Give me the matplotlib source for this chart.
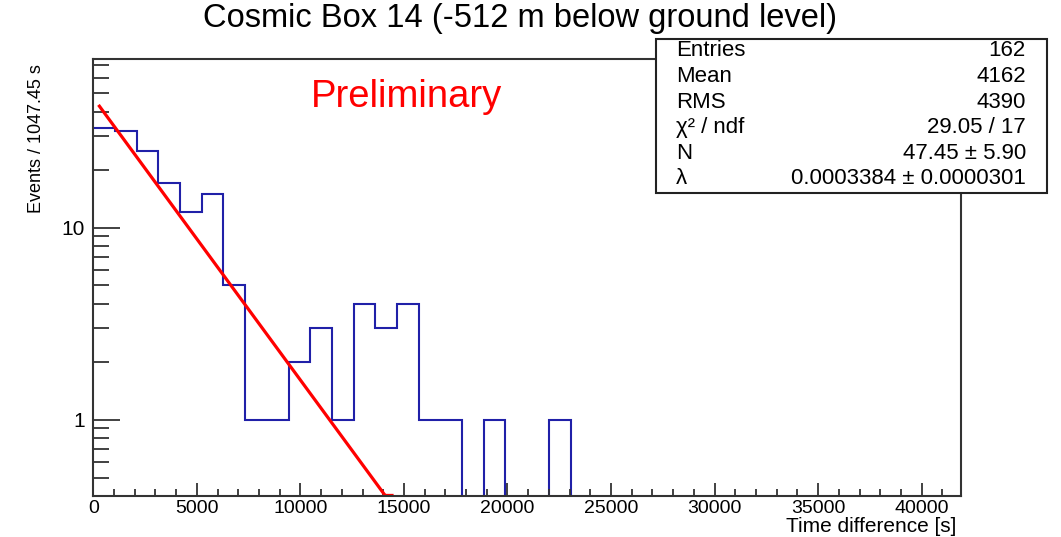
import numpy as np
import matplotlib
matplotlib.use('Agg')
import matplotlib.pyplot as plt
from matplotlib.ticker import MultipleLocator, FixedLocator, NullFormatter, LogLocator
from matplotlib.patches import Rectangle

plt.rcParams['font.family'] = ['Liberation Sans', 'DejaVu Sans']

# histogram of time differences, 40 bins of 1047.45 s
bin_width = 1047.45
counts = [33, 32, 25, 17, 12, 15, 5, 1, 1, 2,
          3, 1, 4, 3, 4, 1, 1, 0, 1, 0,
          0, 1, 0, 0, 0, 0, 0, 0, 0, 0,
          0, 0, 0, 0, 0, 0, 0, 0, 0, 0]

# exponential fit N * exp(-lambda * t)
fit_N = 47.45
fit_lam = 0.0003384
fit_range = [250, 14500]

stat_names = ['Entries', 'Mean', 'RMS', 'χ² / ndf', 'N', 'λ']
stat_values = ['162', '4162', '4390', '29.05 / 17', '47.45 ± 5.90', '0.0003384 ± 0.0000301']

W, H = 1061, 537
ymin, ymax = 0.402, 75.6


def px(x, y):
    return x / W, 1 - y / H


fig = plt.figure(figsize=(W / 100, H / 100), dpi=100)
ax = fig.add_axes([93.3 / W, 1 - 495.7 / H, (961 - 93.3) / W, (495.7 - 59) / H])

edges = np.arange(len(counts) + 1) * bin_width
vals = np.array(counts, dtype=float)
draw_vals = np.where(vals > 0, vals, 1e-3)
ax.stairs(draw_vals, edges, baseline=None, color='#2020a8', lw=1.5)

t = np.linspace(fit_range[0], fit_range[1], 400)
f = np.maximum(fit_N * np.exp(-fit_lam * t), ymin * 1.003)
ax.plot(t, f, color='#ff0000', lw=2.3, solid_capstyle='butt')

ax.set_yscale('log')
ax.set_xlim(0, edges[-1])
ax.set_ylim(ymin, ymax)

ax.xaxis.set_major_locator(MultipleLocator(5000))
ax.xaxis.set_minor_locator(MultipleLocator(1000))
ax.yaxis.set_major_locator(FixedLocator([1, 10]))
ax.yaxis.set_major_formatter(plt.FuncFormatter(lambda v, p: '%d' % v))
ax.yaxis.set_minor_locator(LogLocator(base=10, subs=np.arange(2, 10)))
ax.yaxis.set_minor_formatter(NullFormatter())

ax.tick_params(axis='both', which='both', direction='in', colors='#333333', labelcolor='black', width=1.3)
ax.tick_params(axis='x', which='major', length=9.4, labelsize=14, pad=3)
ax.tick_params(axis='x', which='minor', length=4.7)
ax.tick_params(axis='y', which='major', length=19.4, labelsize=15, pad=6)
ax.tick_params(axis='y', which='minor', length=11.3)
for s in ax.spines.values():
    s.set_linewidth(1.5)
    s.set_color('#333333')

fig.text(*px(520, 18), 'Cosmic Box 14 (-512 m below ground level)', fontsize=23.5,
         ha='center', va='center')
fig.text(*px(311, 97), 'Preliminary', fontsize=27.5, color='#ff0000',
         ha='left', va='center')
fig.text(*px(37, 64), 'Events / 1047.45 s', fontsize=13, rotation=90,
         ha='center', va='top')
fig.text(*px(956, 536), 'Time difference [s]', fontsize=15, ha='right', va='bottom')

# stats box
bx0, by0 = px(656, 192.7)
bx1, by1 = px(1047, 39)
fig.patches.append(Rectangle((bx0, by0), bx1 - bx0, by1 - by0, transform=fig.transFigure,
                             facecolor='white', edgecolor='#222222', lw=1.5, zorder=5))
row_y = [51, 76.7, 102.3, 127.7, 153.3, 179]
for name, val, y in zip(stat_names, stat_values, row_y):
    fig.text(*px(676, y), name, fontsize=16, ha='left', va='center', zorder=6)
    fig.text(*px(1026, y), val, fontsize=16, ha='right', va='center', zorder=6)

fig.savefig('out.png', dpi=100)
